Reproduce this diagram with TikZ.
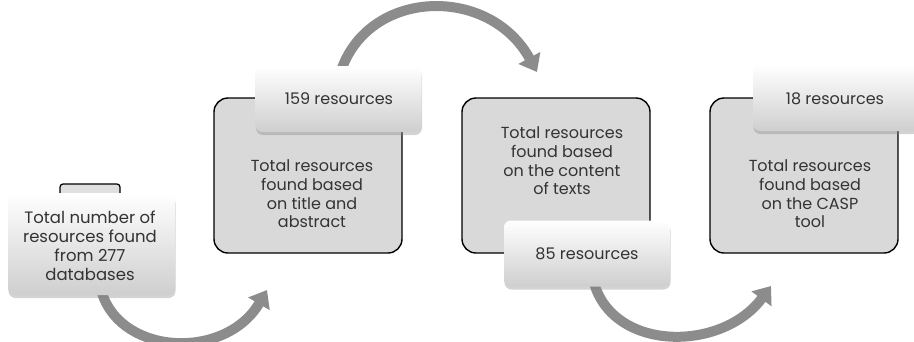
\documentclass[tikz,border=0pt]{standalone}
\usepackage{fontspec}
\setmainfont{Poppins}
\usetikzlibrary{arrows.meta,shadows}
\begin{document}
\begin{tikzpicture}[x=1pt,y=-1pt,
  stagebox/.style={draw=black, line width=1.4pt, fill=gray!30, rounded corners=14pt,
    minimum width=188pt, minimum height=155pt, inner sep=0pt},
  countbox/.style={rounded corners=7pt, top color=white, bottom color=gray!38,
    drop shadow={opacity=0.35, shadow xshift=0.5pt, shadow yshift=-3pt},
    minimum width=166pt, minimum height=66pt, inner sep=0pt},
  bodytext/.style={align=center, font=\fontsize{16}{18.7}\selectfont, text=black!80},
  flow/.style={draw=gray!90, line width=10pt,
    -{Triangle[width=24pt,length=16pt]}},
]
\useasboundingbox (0,0) rectangle (914,341);

% small tab peeking out behind the first box
\node[draw=black, line width=1.2pt, fill=gray!25, rounded corners=3pt,
  minimum width=60pt, minimum height=22pt, inner sep=0pt] (tab) at (90,195) {};

% stage boxes
\node[stagebox] (s2) at (308,175.5) {};
\node[stagebox] (s3) at (556,175.5) {};
\node[stagebox] (s4) at (804,175.5) {};

% connecting arrows
\coordinate (a1s) at (102,293);
\coordinate (a1e) at (267,290);
\coordinate (a2s) at (342,68);
\coordinate (a2e) at (537,72);
\coordinate (a3s) at (594,283);
\coordinate (a3e) at (771,286);
\draw[flow] (a1s) .. controls (122,356) and (226,360) .. (a1e);
\draw[flow] (a2s) .. controls (372,-12) and (490,-14) .. (a2e);
\draw[flow] (a3s) .. controls (614,352) and (722,352) .. (a3e);

% count boxes
\node[countbox, minimum width=167pt, minimum height=102pt] (s1) at (91.5,244) {};
\node[countbox] (c2) at (338.5,99) {};
\node[countbox] (c3) at (587,253.5) {};
\node[countbox] (c4) at (836,98) {};

% texts
\node[bodytext, font=\fontsize{16.5}{19}\selectfont] (t1) at (90,246)
  {Total number of\\resources found\\from 277\\databases};
\node[bodytext] (t2) at (312,194) {Total resources\\found based\\on title and\\abstract};
\node[bodytext] (t3) at (562,161) {Total resources\\found based\\on the content\\of texts};
\node[bodytext] (t4) at (810,194) {Total resources\\found based\\on the CASP\\tool};
\node[bodytext] (l2) at (339,99) {159 resources};
\node[bodytext] (l3) at (587,254) {85 resources};
\node[bodytext] (l4) at (835,99) {18 resources};
\end{tikzpicture}
\end{document}
